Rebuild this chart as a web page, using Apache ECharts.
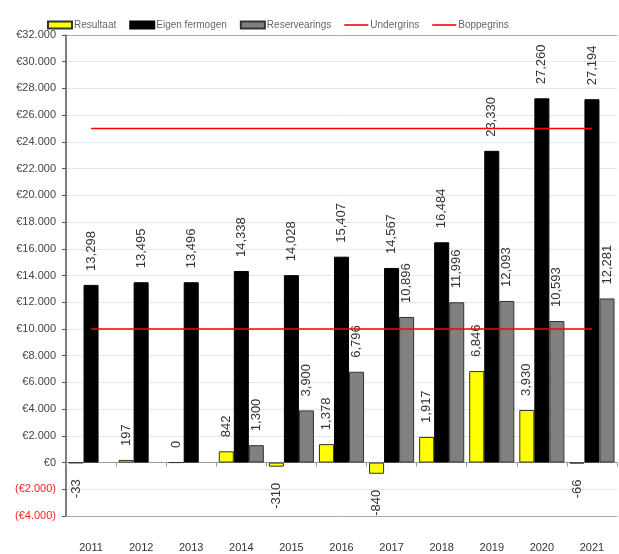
<!DOCTYPE html>
<html>
<head>
<meta charset="utf-8">
<script src="https://cdn.jsdelivr.net/npm/echarts@6/dist/echarts.min.js"></script>
<style>html,body{margin:0;padding:0;background:#fff}#c{width:619px;height:554px}</style>
</head>
<body>
<div id="c"></div>
<script>
const years = ['2011','2012','2013','2014','2015','2016','2017','2018','2019','2020','2021'];
const resultaat = [-33, 197, 0, 842, -310, 1378, -840, 1917, 6846, 3930, -66];
const eigenFermogen = [13298, 13495, 13496, 14338, 14028, 15407, 14567, 16484, 23330, 27260, 27194];
const reservearings = [null, null, null, 1300, 3900, 6796, 10896, 11996, 12093, 10593, 12281];
const undergrins = [10000, 10000, 10000, 10000, 10000, 10000, 10000, 10000, 10000, 10000, 10000];
const boppegrins = [25000, 25000, 25000, 25000, 25000, 25000, 25000, 25000, 25000, 25000, 25000];
const yTicks = {min: -4000, max: 32000, interval: 2000};

function group(n, sep) {
  const s = String(Math.abs(n));
  return s.replace(/\B(?=(\d{3})+(?!\d))/g, sep);
}
const FONT = 'Liberation Sans';
function barData(arr) {
  return arr.map(v => {
    if (v === null) return {value: null};
    if (v < 0) return {value: v, label: {position: 'bottom', align: 'right', distance: 16}};
    return {value: v};
  });
}
const labelBase = {
  show: true, position: 'top', rotate: 90, align: 'left', verticalAlign: 'middle',
  distance: 14, fontSize: 13, color: '#333', fontFamily: FONT,
  formatter: p => p.value === null || p.value === undefined ? '' : (p.value < 0 ? '-' : '') + group(p.value, ',')
};
const lineIcon = 'path://M0,0H30V2H0Z';

const chart = echarts.init(document.getElementById('c'));
chart.setOption({
  animation: false,
  textStyle: {fontFamily: FONT},
  legend: {
    left: 42, top: 15, itemWidth: 24, itemHeight: 7, itemGap: 13,
    textStyle: {fontSize: 10, color: '#666', fontFamily: FONT, padding: [0, 0, 0, -3]},
    data: [
      {name: 'Resultaat', icon: 'rect'},
      {name: 'Eigen fermogen', icon: 'rect'},
      {name: 'Reservearings', icon: 'rect'},
      {name: 'Undergrins', icon: lineIcon},
      {name: 'Boppegrins', icon: lineIcon}
    ]
  },
  grid: {left: 66, right: 2, top: 35, bottom: 38},
  xAxis: [
    {type: 'category', data: years, position: 'bottom',
     axisLine: {onZero: false, lineStyle: {color: '#aaa'}}, axisTick: {show: false},
     axisLabel: {margin: 26, fontSize: 11, color: '#333'}},
    {type: 'category', data: years, position: 'bottom',
     axisLine: {onZero: true, lineStyle: {color: '#999'}}, axisTick: {show: true, length: 4, lineStyle: {color: '#999'}},
     axisLabel: {show: false}},
    {type: 'category', data: years, position: 'top',
     axisLine: {lineStyle: {color: '#aaa'}}, axisTick: {show: false}, axisLabel: {show: false}}
  ],
  yAxis: {
    type: 'value', min: yTicks.min, max: yTicks.max, interval: yTicks.interval,
    axisLine: {show: true, lineStyle: {color: '#555', width: 1.5}},
    axisTick: {show: true, length: 4, lineStyle: {color: '#555'}},
    splitLine: {lineStyle: {color: '#dde7f3'}},
    axisLabel: {
      margin: 10, fontSize: 11,
      color: v => (Number(v) < 0 ? '#ff2020' : '#444'),
      formatter: v => v < 0 ? '(€' + group(v, '.') + ')' : '€' + group(v, '.')
    }
  },
  series: [
    {name: 'Resultaat', type: 'bar', xAxisIndex: 0, data: barData(resultaat), barGap: '0%', barCategoryGap: '10%',
     itemStyle: {color: '#ffff00', borderColor: '#333', borderWidth: 1}, label: labelBase},
    {name: 'Eigen fermogen', type: 'bar', xAxisIndex: 0, data: barData(eigenFermogen),
     itemStyle: {color: '#000', borderColor: '#000', borderWidth: 1}, label: labelBase},
    {name: 'Reservearings', type: 'bar', xAxisIndex: 0, data: barData(reservearings),
     itemStyle: {color: '#808080', borderColor: '#333', borderWidth: 1}, label: labelBase},
    {name: 'Undergrins', type: 'line', xAxisIndex: 0, data: undergrins, symbol: 'none',
     lineStyle: {color: '#ff0000', width: 1.5}, itemStyle: {color: '#ff0000'}, z: 5},
    {name: 'Boppegrins', type: 'line', xAxisIndex: 0, data: boppegrins, symbol: 'none',
     lineStyle: {color: '#ff0000', width: 1.5}, itemStyle: {color: '#ff0000'}, z: 5}
  ]
});
</script>
</body>
</html>
